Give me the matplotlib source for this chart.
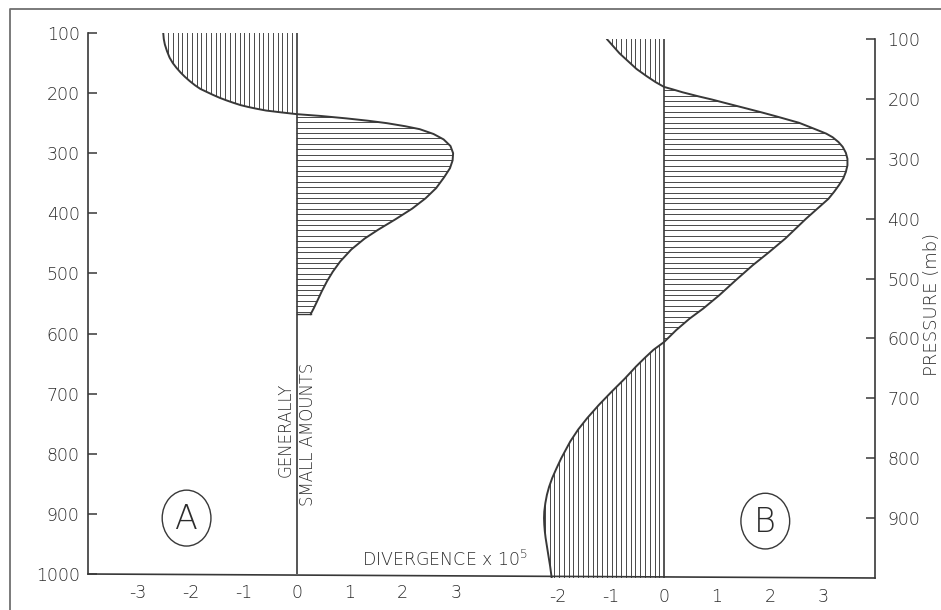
import numpy as np
import matplotlib
matplotlib.use("Agg")
import matplotlib.pyplot as plt
from matplotlib.collections import LineCollection
from matplotlib.patches import Ellipse
from matplotlib.lines import Line2D

# ---- Profile A: divergence (x 10^5 s^-1) against pressure (mb) ----
PRESSURE_A = [100, 110, 119, 130, 141, 150, 158, 166, 173, 180, 187, 193, 198,
              203, 208, 212, 216, 220, 223, 226, 229, 232, 235,
              238, 242, 246, 250, 255, 260, 268, 277, 288, 300, 312, 325, 340,
              358, 375, 392, 410, 427, 442, 460, 480, 497, 513, 530, 547, 558,
              568]
DIVERGENCE_A = [-2.52, -2.51, -2.49, -2.45, -2.40, -2.34, -2.27, -2.19, -2.11,
                -2.02, -1.92, -1.82, -1.70, -1.58, -1.45, -1.33, -1.20, -1.06,
                -0.92, -0.76, -0.58, -0.30, 0.0,
                0.45, 0.93, 1.35, 1.70, 2.04, 2.32, 2.58, 2.77, 2.90, 2.95,
                2.94, 2.89, 2.78, 2.63, 2.43, 2.18, 1.86, 1.54, 1.28, 1.03,
                0.82, 0.68, 0.57, 0.47, 0.38, 0.32, 0.26]

# ---- Profile B ----
PRESSURE_B = [100, 112, 124, 137, 150, 162, 172, 180,
              184, 189, 196, 201, 207, 212, 217, 223, 229, 235, 240, 247, 253,
              258, 264, 272, 280, 290, 300, 311, 322, 333, 344, 355, 367, 378,
              389, 400, 411, 433, 456, 478, 503, 528, 550, 567, 586, 606,
              619, 633, 647, 667, 689, 711, 733, 752, 772, 800, 817, 833, 848,
              861, 875, 889, 900, 911, 922, 933, 947, 961, 980, 1000]
DIVERGENCE_B = [-1.08, -0.96, -0.84, -0.68, -0.52, -0.33, -0.16, 0.0,
                0.16, 0.35, 0.66, 0.90, 1.16, 1.38, 1.60, 1.86, 2.11, 2.35,
                2.55, 2.75, 2.92, 3.06, 3.18, 3.29, 3.37, 3.43, 3.46, 3.46,
                3.43, 3.38, 3.30, 3.21, 3.10, 2.96, 2.82, 2.68, 2.55, 2.29,
                1.98, 1.67, 1.35, 1.04, 0.74, 0.48, 0.23, 0.0,
                -0.20, -0.37, -0.53, -0.74, -0.99, -1.23, -1.45, -1.62, -1.77,
                -1.94, -2.03, -2.11, -2.17, -2.21, -2.24, -2.26, -2.265,
                -2.26, -2.25, -2.235, -2.21, -2.185, -2.15, -2.12]

PRESSURE_TICKS_LEFT = [100, 200, 300, 400, 500, 600, 700, 800, 900, 1000]
PRESSURE_TICKS_RIGHT = [100, 200, 300, 400, 500, 600, 700, 800, 900]
DIV_TICKS_A = [-3, -2, -1, 0, 1, 2, 3]
DIV_TICKS_B = [-2, -1, 0, 1, 2, 3]

PANEL_LABELS = ["A", "B"]
NOTE_LINES = ["GENERALLY", "SMALL AMOUNTS"]
X_LABEL = "DIVERGENCE x 10$^5$"
Y_LABEL = "PRESSURE (mb)"

INK = "#383838"
TEXT_INK = "#2c2c2c"
HATCH_INK = "#484848"
HATCH_DX = 0.09     # spacing of vertical hatching (divergence units)
HATCH_DP = 9.0      # spacing of horizontal hatching (mb)

plt.rcParams["font.family"] = ["DejaVu Sans"]
plt.rcParams["font.weight"] = "light"
plt.rcParams["mathtext.fontset"] = "dejavusans"

W, H = 941, 610
fig = plt.figure(figsize=(W / 100, H / 100), dpi=100)


def px_rect(left, top, right, bottom):
    return [left / W, 1 - bottom / H, (right - left) / W, (bottom - top) / H]


axA = fig.add_axes(px_rect(88, 33, 504, 574))
axB = fig.add_axes(px_rect(504, 39, 875, 578))


def hatch(ax, p, d, negative, vertical):
    p = np.asarray(p, float)
    d = np.asarray(d, float)
    where = d <= 0 if negative else d >= 0
    region = ax.fill_betweenx(p, d, 0, where=where,
                              facecolor="none", edgecolor="none")
    if vertical:
        xs = np.arange(-4.5, 4.5 + 1e-9, HATCH_DX)
        segs = [[(x, 90), (x, 1010)] for x in xs]
    else:
        ys = np.arange(100 + HATCH_DP / 2, 1000, HATCH_DP)
        segs = [[(-5, y), (5, y)] for y in ys]
    for path in region.get_paths():
        lc = LineCollection(segs, colors=HATCH_INK, linewidths=0.7)
        ax.add_collection(lc, autolim=False)
        lc.set_clip_path(path, ax.transData)


def profile(ax, p, d):
    ax.plot(d, p, color=INK, lw=1.4, solid_capstyle="round",
            solid_joinstyle="round", zorder=3)
    ax.plot([0, 0], [100, 1000], color=INK, lw=1.2, zorder=3)


# Panel A
hatch(axA, PRESSURE_A, DIVERGENCE_A, negative=True, vertical=True)
hatch(axA, PRESSURE_A, DIVERGENCE_A, negative=False, vertical=False)
profile(axA, PRESSURE_A, DIVERGENCE_A)
axA.plot([0, DIVERGENCE_A[-1]], [PRESSURE_A[-1]] * 2, color=INK, lw=1.0)

# Panel B
hatch(axB, PRESSURE_B, DIVERGENCE_B, negative=True, vertical=True)
hatch(axB, PRESSURE_B, DIVERGENCE_B, negative=False, vertical=False)
profile(axB, PRESSURE_B, DIVERGENCE_B)

axA.set_xlim(-3.94, 3.91)
axB.set_xlim(-3.02, 3.98)
for ax in (axA, axB):
    ax.set_ylim(1000, 100)
    ax.set_facecolor("none")
    ax.spines["top"].set_visible(False)
    ax.spines["bottom"].set_visible(False)

axA.spines["right"].set_visible(False)
axB.spines["left"].set_visible(False)
for sp in (axA.spines["left"], axB.spines["right"]):
    sp.set_color(INK)
    sp.set_linewidth(1.2)

tick_font = dict(fontsize=12.5, color=TEXT_INK)
axA.set_yticks(PRESSURE_TICKS_LEFT)
axA.set_yticklabels([str(v) for v in PRESSURE_TICKS_LEFT], **tick_font)
axA.tick_params(axis="y", direction="in", length=6.5, width=1.1,
                color=INK, pad=6, left=True, right=False)

axB.yaxis.tick_right()
axB.set_yticks(PRESSURE_TICKS_RIGHT)
axB.set_yticklabels([str(v) for v in PRESSURE_TICKS_RIGHT], **tick_font)
axB.tick_params(axis="y", direction="in", length=6.5, width=1.1,
                color=INK, pad=9, left=False, right=True)

axA.set_xticks(DIV_TICKS_A)
axA.set_xticklabels([str(v) for v in DIV_TICKS_A], **tick_font)
axB.set_xticks(DIV_TICKS_B)
axB.set_xticklabels([str(v) for v in DIV_TICKS_B], **tick_font)
for ax in (axA, axB):
    ax.tick_params(axis="x", length=0, pad=7)

# Common divergence axis drawn across both panels
fig.add_artist(Line2D([88 / W, 875 / W], [1 - 574 / H, 1 - 578 / H],
                      color=INK, lw=1.2, transform=fig.transFigure))

# Circled panel letters
for ax, label, (x0, p0) in ((axA, PANEL_LABELS[0], (-2.08, 907)),
                            (axB, PANEL_LABELS[1], (1.91, 905))):
    ax.add_patch(Ellipse((x0, p0), 0.92, 93, fill=False, ec=INK, lw=1.0))
    ax.text(x0, p0 + 3, label, fontsize=24, color=TEXT_INK,
            ha="center", va="center")

# Note beside the zero line of panel A
axA.text(-0.21, 760, NOTE_LINES[0], rotation=90, fontsize=12,
         color=TEXT_INK, ha="center", va="center")
axA.text(0.21, 768, NOTE_LINES[1], rotation=90, fontsize=12,
         color=TEXT_INK, ha="center", va="center")

axA.text(2.79, 977, X_LABEL, fontsize=12.5, color=TEXT_INK,
         ha="center", va="center")
fig.text(932 / W, 1 - 305 / H, Y_LABEL, rotation=90, fontsize=13,
         color=TEXT_INK, ha="center", va="center")

# Page frame
fig.add_artist(Line2D([10 / W, 10 / W, 1.0], [0.0, 1 - 9 / H, 1 - 9 / H],
                      color="#707070", lw=1.3, transform=fig.transFigure))

fig.savefig("out.png", dpi=100)
